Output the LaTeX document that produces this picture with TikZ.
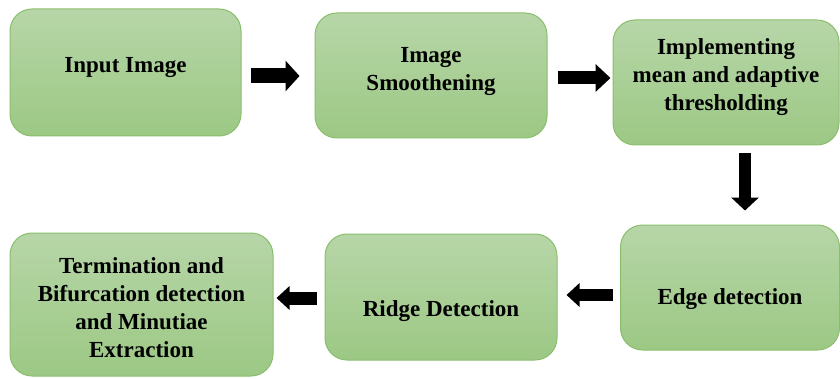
\documentclass[tikz,border=0pt]{standalone}
\usepackage{fontspec}
\setmainfont{Liberation Serif}
\usetikzlibrary{arrows.meta,calc}

\definecolor{boxtop}{RGB}{183,214,168}
\definecolor{boxbot}{RGB}{156,200,132}
\definecolor{boxline}{RGB}{138,190,108}

\tikzset{
  procbox/.style={rectangle, rounded corners=22pt, draw=boxline, line width=1pt,
    top color=boxtop, bottom color=boxbot, inner sep=0pt},
  boxtext/.style={align=center, font=\fontsize{23}{28}\selectfont\bfseries,
    text=black, inner sep=0pt},
  blockarrow/.style={draw=black, line width=#1, line cap=butt,
    -{Triangle[width=28pt,length=14pt]}},
  blockarrow/.default=14pt
}

\begin{document}
\begin{tikzpicture}[x=1pt,y=1pt]
\useasboundingbox (0,0) rectangle (840,378);

% process boxes
\node[procbox, minimum width=231pt, minimum height=127pt] (input)  at (125.5,305.5) {};
\node[procbox, minimum width=232pt, minimum height=125pt] (smooth) at (431,302.5) {};
\node[procbox, minimum width=226pt, minimum height=125pt] (thresh) at (726,295.5) {};
\node[procbox, minimum width=219pt, minimum height=125pt] (edge)   at (730,90.5) {};
\node[procbox, minimum width=232pt, minimum height=126pt] (ridge)  at (441,81) {};
\node[procbox, minimum width=263pt, minimum height=143pt] (minut)  at (141.5,73.5) {};

% box labels
\node[boxtext] (tinput)  at ($(input.center)+(0,4.5)$)  {Input Image};
\node[boxtext] (tsmooth) at ($(smooth.center)+(0,4)$)   {Image\\Smoothening};
\node[boxtext] (tthresh) at ($(thresh.center)+(0,5)$)   {Implementing\\mean and adaptive\\thresholding};
\node[boxtext] (tedge)   at ($(edge.center)+(0,-12)$)   {Edge detection};
\node[boxtext] (tridge)  at ($(ridge.center)+(0,-14)$)  {Ridge Detection};
\node[boxtext] (tminut)  at ($(minut.center)+(0,-3.5)$) {Termination and\\Bifurcation detection\\and Minutiae\\Extraction};

% flow arrows
\draw[blockarrow=15pt, -{Triangle[width=30pt,length=14pt]}]
  ($(input.east)+(9,-3.5)$) -- ++(49,0);
\draw[blockarrow=13pt, -{Triangle[width=27pt,length=15pt]}]
  ($(smooth.east)+(10,-2.5)$) -- ++(53,0);
\draw[blockarrow=12pt, -{Triangle[width=27pt,length=13pt]}]
  ($(thresh.south)+(19,-8)$) -- ++(0,-57);
\draw[blockarrow=12pt, -{Triangle[width=23pt,length=13pt]}]
  ($(edge.west)+(-7.5,-7.5)$) -- ++(-46,0);
\draw[blockarrow=13pt, -{Triangle[width=23pt,length=13pt]}]
  ($(ridge.west)+(-8,-1)$) -- ++(-40,0);
\end{tikzpicture}
\end{document}
